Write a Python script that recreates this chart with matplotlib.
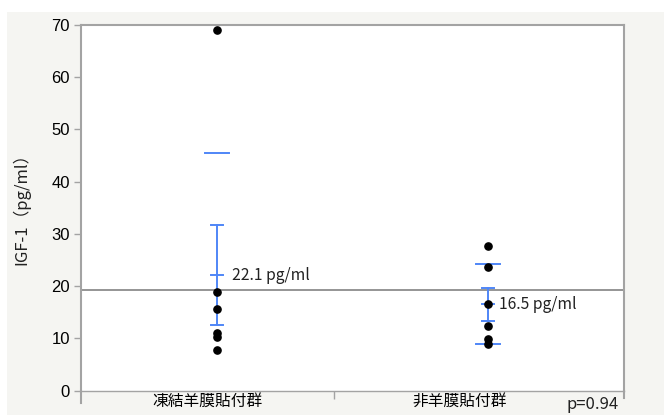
import numpy as np
import matplotlib.pyplot as plt
from matplotlib.patches import Rectangle

plt.rcParams['font.family'] = ['Noto Sans CJK JP', 'DejaVu Sans']

# IGF-1 measurements per group (pg/ml)
groups = ['凍結羊膜貼付群', '非羊膜貼付群']
frozen_amnion = [69.1, 18.9, 15.6, 11.1, 10.3, 7.7]
no_amnion = [27.7, 23.6, 16.5, 12.4, 9.9, 9.0]
p_value = 0.94
y_ticks = [0, 10, 20, 30, 40, 50, 60, 70]

blue = '#4f86f7'
frame = '#a3a3a3'

fig = plt.figure(figsize=(6.64, 4.15), dpi=100, facecolor='white')
fig.add_artist(Rectangle((7 / 664, 0), 1, 1 - 12 / 415, transform=fig.transFigure,
                         facecolor='#f5f5f2', edgecolor='none', zorder=-5))
ax = fig.add_axes([81 / 664, 1 - 390.5 / 415, 543 / 664, 365.5 / 415])
ax.set_facecolor('white')

data = [np.array(frozen_amnion), np.array(no_amnion)]
grand_mean = np.mean(np.concatenate(data))
ax.axhline(grand_mean, color='#8c8c8c', lw=1.3, zorder=1)

for i, vals in enumerate(data):
    m = vals.mean()
    sd = vals.std(ddof=1)
    se = sd / np.sqrt(len(vals))
    # std dev lines
    for y in (m - sd, m + sd):
        if 0 <= y <= 70:
            ax.plot([i - 0.044, i + 0.044], [y, y], color=blue, lw=1.4, zorder=2)
    # mean with standard-error bar
    ax.plot([i, i], [m - se, m + se], color=blue, lw=1.4, zorder=2)
    for y in (m - se, m, m + se):
        ax.plot([i - 0.022, i + 0.022], [y, y], color=blue, lw=1.4, zorder=2)
    ax.plot(np.full(len(vals), i), vals, 'o', color='black', ms=5.2, zorder=3)
    ax.annotate(f'{m:.1f} pg/ml', (i, m), xytext=(11 if i == 0 else 8, 0),
                textcoords='offset points', va='center', ha='left', fontsize=11.3,
                color='#222222')

ax.set_xlim(-0.5, 1.5)
ax.set_ylim(0, 70)
ax.set_yticks(y_ticks)
ax.set_yticklabels([str(t) for t in y_ticks], family='Liberation Sans', fontsize=12)
ax.tick_params(axis='y', length=5, width=1, color=frame, pad=3)

ax.set_xticks([-0.035, 0.894])
ax.set_xticklabels(groups, fontsize=11.3)
ax.tick_params(axis='x', length=0, pad=2)
ax.set_xticks([0.433], minor=True)
ax.tick_params(axis='x', which='minor', length=6, color=frame, width=1)

for side in ['left', 'right', 'top']:
    ax.spines[side].set_color(frame)
    ax.spines[side].set_linewidth(1.5)
ax.spines['bottom'].set_color(frame)
ax.spines['bottom'].set_linewidth(1.0)

# spines run a little past the bottom of the frame
ax.plot([0, 0], [0, -0.034], transform=ax.transAxes, color=frame, lw=1.5, clip_on=False)
ax.plot([1, 1], [0, -0.02], transform=ax.transAxes, color=frame, lw=1.5, clip_on=False)

fig.text(21 / 664, 1 - 205 / 415, 'IGF-1（pg/ml）', rotation=90, ha='center', va='center',
         fontsize=12, color='#222222')
fig.text(619 / 664, 1 - 404 / 415, f'p={p_value:.2f}', ha='right', va='center',
         fontsize=12, color='#222222')

fig.savefig('out.png', dpi=100, facecolor=fig.get_facecolor())
